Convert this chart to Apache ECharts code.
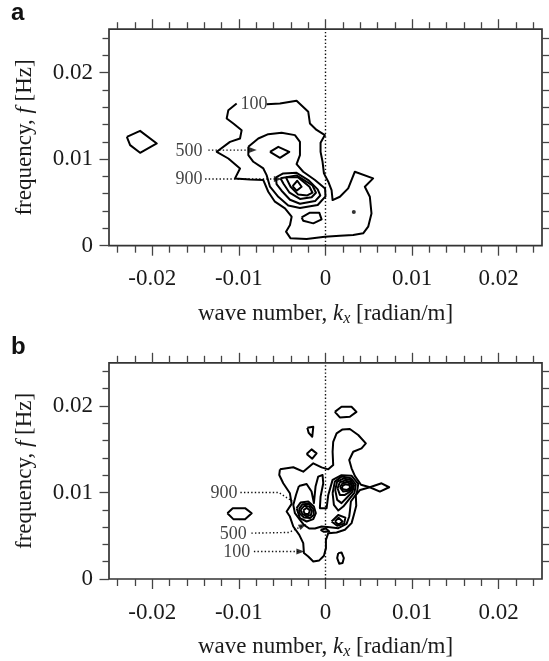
<!DOCTYPE html>
<html><head><meta charset="utf-8">
<script src="https://cdn.jsdelivr.net/npm/echarts@6/dist/echarts.min.js"></script>
<style>html,body{margin:0;padding:0;background:#fff}#c{width:549px;height:661px}</style>
</head><body><div id="c"></div>
<script>
// ---------- axis ticks / labels ----------
const xTickLabels = [-0.02, -0.01, 0, 0.01, 0.02];
const xMinorTicks = [-0.024,-0.022,-0.018,-0.016,-0.014,-0.012,-0.008,-0.006,-0.004,-0.002,0.002,0.004,0.006,0.008,0.012,0.014,0.016,0.018,0.022,0.024];
const yTickLabels = [0, 0.01, 0.02];
const yMinorTicks = [0.002,0.004,0.006,0.008,0.012,0.014,0.016,0.018,0.022,0.024];
const yRightTicks = [0.002,0.004,0.006,0.008,0.01,0.012,0.014,0.016,0.018,0.02,0.022,0.024];
const xName = 'wave number, {i|k}{s|x} [radian/m]';
const yName = 'frequency, {i|f} [Hz]';

// ---------- panel a contours [kx, f] ----------
const a100 = [[-0.00680,0.01634],[-0.00526,0.01642],[-0.00334,0.01673],[-0.00199,0.01546],[-0.00180,0.01412],[-0.00103,0.01337],[-0.00007,0.01277],[-0.00057,0.01188],[-0.00057,0.01084],[-0.00034,0.00969],[-0.00018,0.00835],[0.00032,0.00739],[0.00070,0.00643],[0.00082,0.00527],[0.00166,0.00565],[0.00262,0.00662],[0.00339,0.00854],[0.00550,0.00777],[0.00454,0.00681],[0.00512,0.00565],[0.00531,0.00373],[0.00493,0.00220],[0.00435,0.00143],[0.00320,0.00123],[0.00166,0.00116],[-0.00007,0.00104],[-0.00218,0.00077],[-0.00403,0.00085],[-0.00456,0.00162],[-0.00410,0.00239],[-0.00391,0.00335],[-0.00468,0.00431],[-0.00584,0.00508],[-0.00661,0.00623],[-0.00718,0.00758],[-0.00872,0.00765],[-0.01045,0.00777],[-0.00987,0.00892],[-0.01122,0.01007],[-0.01256,0.01084],[-0.01103,0.01199],[-0.00987,0.01238],[-0.00968,0.01334],[-0.01064,0.01411],[-0.01141,0.01469],[-0.01122,0.01565],[-0.01026,0.01642]];
const a500 = [[-0.00891,0.01142],[-0.00776,0.01238],[-0.00661,0.01288],[-0.00507,0.01304],[-0.00353,0.01277],[-0.00295,0.01200],[-0.00295,0.01046],[-0.00334,0.00942],[-0.00257,0.00854],[-0.00122,0.00758],[-0.00005,0.00660],[0.00000,0.00570],[-0.00090,0.00470],[-0.00295,0.00435],[-0.00430,0.00465],[-0.00545,0.00565],[-0.00641,0.00681],[-0.00680,0.00815],[-0.00718,0.00892],[-0.00833,0.00969],[-0.00891,0.01046]];
const a900u = [[-0.00641,0.01084],[-0.00545,0.01142],[-0.00418,0.01084],[-0.00526,0.01015]];
const a900 = [[-0.00572,0.00789],[-0.00488,0.00835],[-0.00334,0.00842],[-0.00199,0.00758],[-0.00090,0.00650],[-0.00060,0.00580],[-0.00120,0.00515],[-0.00295,0.00485],[-0.00410,0.00530],[-0.00507,0.00635],[-0.00565,0.00712]];
const a1300 = [[-0.00520,0.00780],[-0.00334,0.00812],[-0.00150,0.00695],[-0.00110,0.00612],[-0.00160,0.00560],[-0.00295,0.00540],[-0.00415,0.00612],[-0.00485,0.00715]];
const a1700 = [[-0.00457,0.00789],[-0.00315,0.00789],[-0.00185,0.00680],[-0.00150,0.00612],[-0.00211,0.00581],[-0.00315,0.00590],[-0.00403,0.00681]];
const a2100 = [[-0.00380,0.00688],[-0.00326,0.00750],[-0.00276,0.00681],[-0.00334,0.00635]];
const aLow = [[-0.00276,0.00327],[-0.00180,0.00381],[-0.00072,0.00381],[-0.00045,0.00304],[-0.00141,0.00258],[-0.00257,0.00288]];
const aLeft = [[-0.02294,0.01257],[-0.02141,0.01326],[-0.01948,0.01181],[-0.02141,0.01073],[-0.02256,0.01161]];
const aDot = [[0.00327,0.00388]];
const aPtr500 = [[-0.01353,0.01104],[-0.00850,0.01104]];
const aPtr900 = [[-0.01390,0.00771],[-0.00560,0.00771]];
const aArrows = [[-0.00840,0.01104],[-0.00550,0.00771]];
const aLabels = [['100',-0.00825,0.01634],['500',-0.01575,0.01095],['900',-0.01575,0.00765]];

// ---------- panel b contours [kx, f] ----------
const b100 = [[-0.00526,0.01268],[-0.00372,0.01292],[-0.00257,0.01241],[-0.00141,0.01338],[-0.00045,0.01291],[0.00032,0.01268],[0.00089,0.01318],[0.00082,0.01472],[0.00089,0.01587],[0.00128,0.01684],[0.00197,0.01730],[0.00281,0.01734],[0.00378,0.01665],[0.00466,0.01568],[0.00416,0.01511],[0.00320,0.01472],[0.00274,0.01376],[0.00301,0.01280],[0.00340,0.01190],[0.00410,0.01090],[0.00512,0.01061],[0.00400,0.01030],[0.00350,0.00970],[0.00355,0.00846],[0.00328,0.00742],[0.00301,0.00646],[0.00224,0.00569],[0.00128,0.00538],[0.00032,0.00530],[0.00005,0.00453],[0.00005,0.00357],[-0.00018,0.00269],[-0.00072,0.00215],[-0.00141,0.00203],[-0.00199,0.00261],[-0.00249,0.00300],[-0.00257,0.00415],[-0.00303,0.00511],[-0.00372,0.00607],[-0.00411,0.00722],[-0.00449,0.00780],[-0.00391,0.00869],[-0.00411,0.00991],[-0.00488,0.01107],[-0.00534,0.01203]];
const bM = [[-0.00307,0.01076],[-0.00218,0.01099],[-0.00161,0.01011],[-0.00134,0.00877],[-0.00115,0.01069],[-0.00084,0.01184],[-0.00034,0.01203],[-0.00026,0.01107],[-0.00057,0.00953],[-0.00065,0.00819],[0.00013,0.00819],[0.00032,0.00972],[0.00082,0.01146],[0.00185,0.01200],[0.00300,0.01195],[0.00378,0.01100],[0.00362,0.00992],[0.00293,0.00896],[0.00281,0.00780],[0.00274,0.00723],[0.00243,0.00638],[0.00147,0.00588],[0.00051,0.00599],[-0.00045,0.00607],[-0.00122,0.00584],[-0.00188,0.00584],[-0.00249,0.00626],[-0.00295,0.00684],[-0.00353,0.00761],[-0.00372,0.00857],[-0.00341,0.00972]];
const bR1 = [[0.00082,0.00992],[0.00108,0.01126],[0.00185,0.01184],[0.00295,0.01165],[0.00350,0.01095],[0.00335,0.01000],[0.00274,0.00923],[0.00205,0.00838],[0.00147,0.00792],[0.00097,0.00857]];
const bR2 = [[0.00112,0.01030],[0.00135,0.01126],[0.00205,0.01161],[0.00290,0.01146],[0.00330,0.01084],[0.00310,0.01007],[0.00251,0.00946],[0.00185,0.00877],[0.00135,0.00915]];
const bR3 = [[0.00139,0.01049],[0.00166,0.01119],[0.00224,0.01138],[0.00288,0.01122],[0.00315,0.01069],[0.00290,0.01015],[0.00224,0.00972],[0.00166,0.00972]];
const bR4 = [[0.00166,0.01061],[0.00197,0.01107],[0.00251,0.01119],[0.00295,0.01095],[0.00300,0.01053],[0.00266,0.01019],[0.00205,0.01011]];
const bR5 = [[0.00185,0.01069],[0.00224,0.01095],[0.00275,0.01088],[0.00285,0.01053],[0.00251,0.01030],[0.00201,0.01038]];
const bL1 = [[-0.00334,0.00819],[-0.00288,0.00884],[-0.00199,0.00896],[-0.00134,0.00838],[-0.00111,0.00761],[-0.00141,0.00692],[-0.00218,0.00665],[-0.00295,0.00704]];
const bL2 = [[-0.00307,0.00807],[-0.00265,0.00865],[-0.00191,0.00869],[-0.00141,0.00807],[-0.00134,0.00742],[-0.00180,0.00704],[-0.00249,0.00711],[-0.00295,0.00753]];
const bL3 = [[-0.00288,0.00800],[-0.00245,0.00846],[-0.00188,0.00838],[-0.00157,0.00788],[-0.00168,0.00742],[-0.00218,0.00723],[-0.00268,0.00753]];
const bL4 = [[-0.00257,0.00792],[-0.00218,0.00823],[-0.00180,0.00792],[-0.00195,0.00753],[-0.00238,0.00753]];
const bD1 = [[0.00070,0.00665],[0.00147,0.00740],[0.00230,0.00710],[0.00215,0.00640],[0.00135,0.00615]];
const bD2 = [[0.00108,0.00665],[0.00151,0.00708],[0.00197,0.00665],[0.00151,0.00626]];
const bHook = [[-0.00057,0.00569],[0.00005,0.00584],[0.00043,0.00549],[-0.00018,0.00546]];
const bTop = [[0.00108,0.01933],[0.00185,0.01991],[0.00300,0.01991],[0.00358,0.01933],[0.00281,0.01876],[0.00166,0.01868]];
const bNarrow = [[-0.00210,0.01749],[-0.00141,0.01760],[-0.00153,0.01645],[-0.00172,0.01638],[-0.00195,0.01691]];
const bDia = [[-0.00218,0.01445],[-0.00161,0.01499],[-0.00103,0.01453],[-0.00153,0.01391]];
const bHex = [[-0.01133,0.00761],[-0.01071,0.00819],[-0.00929,0.00819],[-0.00852,0.00761],[-0.00929,0.00692],[-0.01064,0.00692]];
const bDiaR = [[0.00512,0.01061],[0.00647,0.01107],[0.00735,0.01061],[0.00628,0.01011]];
const bZero = [[0.00147,0.00299],[0.00185,0.00307],[0.00212,0.00242],[0.00197,0.00184],[0.00158,0.00177],[0.00135,0.00242]];
const bPtr900 = [[-0.00983,0.01000],[-0.00540,0.01000],[-0.00383,0.00900]];
const bPtr500 = [[-0.00856,0.00530],[-0.00424,0.00538],[-0.00265,0.00615]];
const bPtr100 = [[-0.00827,0.00318],[-0.00300,0.00318]];
const bArrows = [[-0.00262,0.00617,-64],[-0.00290,0.00318,-90]];
const bLabels = [['900',-0.01172,0.00995],['500',-0.01064,0.00515],['100',-0.01025,0.00305]];

// ---------- layout ----------
const FONT = 'Liberation Serif';
const X_MIN = -0.025, X_MAX = 0.025, Y_MIN = 0, Y_MAX = 0.025;
const gridPos = [{left:109, top:29.2, width:433, height:216.5}, {left:109, top:362.8, width:433, height:216.5}];
const tickStyle = {color:'#444', width:1.3};
const nameStyle = {fontFamily:FONT, fontSize:23, color:'#1a1a1a',
  rich:{i:{fontFamily:FONT, fontSize:23, fontStyle:'italic', color:'#1a1a1a'},
        s:{fontFamily:FONT, fontSize:16, fontStyle:'italic', color:'#1a1a1a', padding:[10,0,0,0]}}};

const grids = [], xAxes = [], yAxes = [], series = [];
function xAx(g, pos, ticks, len, labels, withName){
  return {type:'value', gridIndex:g, position:pos, min:X_MIN, max:X_MAX,
    axisLine:{show:false, onZero:false}, splitLine:{show:false},
    axisTick:{show:true, inside:false, length:len, customValues:ticks, lineStyle:tickStyle},
    axisLabel: labels ? {show:true, customValues:labels, margin:22, fontFamily:FONT, fontSize:23, color:'#1a1a1a'} : {show:false},
    name: withName ? xName : '', nameLocation:'middle', nameGap:55, nameTextStyle:nameStyle};
}
function yAx(g, pos, ticks, len, labels, withName){
  return {type:'value', gridIndex:g, position:pos, min:Y_MIN, max:Y_MAX,
    axisLine:{show:false, onZero:false}, splitLine:{show:false},
    axisTick:{show:true, inside:false, length:len, customValues:ticks, lineStyle:tickStyle},
    axisLabel: labels ? {show:true, customValues:labels, margin:16, fontFamily:FONT, fontSize:23, color:'#1a1a1a'} : {show:false},
    name: withName ? yName : '', nameLocation:'middle', nameGap:73, nameTextStyle:nameStyle};
}
for (let g = 0; g < 2; g++){
  grids.push(Object.assign({show:true, borderColor:'#333', borderWidth:1.7, backgroundColor:'transparent'}, gridPos[g]));
  xAxes.push(xAx(g,'bottom',xTickLabels,10,xTickLabels,true));
  xAxes.push(xAx(g,'bottom',xMinorTicks,7,null,false));
  xAxes.push(xAx(g,'top',xTickLabels,10,null,false));
  xAxes.push(xAx(g,'top',xMinorTicks,7,null,false));
  yAxes.push(yAx(g,'left',yTickLabels,9.5,yTickLabels,true));
  yAxes.push(yAx(g,'left',yMinorTicks,6.5,null,false));
  yAxes.push(yAx(g,'right',yRightTicks,7,null,false));
}
const axisOf = g => ({xAxisIndex:4*g, yAxisIndex:3*g});
function contour(pts, g, closed){
  const data = closed === false ? pts : pts.concat([pts[0]]);
  return Object.assign({type:'line', data:data, symbol:'none', silent:true, z:3,
    lineStyle:{color:'#000', width:2, join:'round'}}, axisOf(g));
}
function dotted(pts, g){
  return Object.assign({type:'line', data:pts, symbol:'none', silent:true, z:2,
    lineStyle:{color:'#111', width:1.4, type:[1.4,2.2]}}, axisOf(g));
}
function labels(list, g){
  return Object.assign({type:'scatter', symbol:'circle', symbolSize:1, silent:true, z:5,
    itemStyle:{color:'transparent'},
    data:list.map(l => ({name:l[0], value:[l[1], l[2]]})),
    label:{show:true, position:'inside', formatter:'{b}', fontFamily:FONT, fontSize:18, color:'#111'}}, axisOf(g));
}
function arrows(list, g){
  return Object.assign({type:'scatter', symbol:'triangle', symbolSize:[6,8], silent:true, z:6,
    itemStyle:{color:'#000'},
    data:list.map(a => ({value:[a[0], a[1]], symbolRotate: a.length > 2 ? a[2] : -90}))}, axisOf(g));
}
const zeroLine = [[0, Y_MIN], [0, Y_MAX]];

// panel a
series.push(dotted(zeroLine, 0));
series.push(contour(a100, 0, false));
[a500, a900u, a900, a1300, a1700, a2100, aLow, aLeft].forEach(c => series.push(contour(c, 0)));
series.push(Object.assign({type:'scatter', symbol:'circle', symbolSize:4, itemStyle:{color:'#000'}, data:aDot, silent:true}, axisOf(0)));
series.push(dotted(aPtr500, 0)); series.push(dotted(aPtr900, 0));
series.push(arrows(aArrows, 0));
series.push(labels(aLabels, 0));
// panel b
series.push(dotted(zeroLine, 1));
[b100, bM, bR1, bR2, bR3, bR4, bR5, bL1, bL2, bL3, bL4, bD1, bD2, bHook, bTop, bNarrow, bDia, bHex, bDiaR, bZero]
  .forEach(c => series.push(contour(c, 1)));
series.push(dotted(bPtr900, 1)); series.push(dotted(bPtr500, 1)); series.push(dotted(bPtr100, 1));
series.push(arrows(bArrows, 1));
series.push(labels(bLabels, 1));

const chart = echarts.init(document.getElementById('c'));
chart.setOption({
  animation:false,
  grid:grids, xAxis:xAxes, yAxis:yAxes, series:series,
  graphic:[
    {type:'text', left:11, top:1, style:{text:'a', font:'bold 24px "Liberation Sans"', fill:'#111'}},
    {type:'text', left:11, top:335, style:{text:'b', font:'bold 24px "Liberation Sans"', fill:'#111'}}
  ]
});
</script></body></html>
